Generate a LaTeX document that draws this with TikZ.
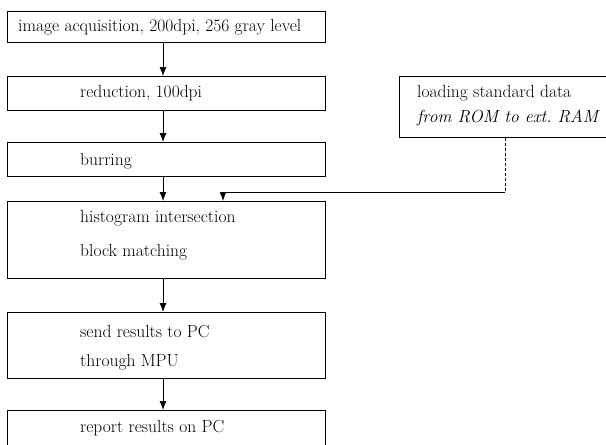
\documentclass[tikz,border=0pt]{standalone}
\usetikzlibrary{arrows.meta}
\begin{document}
\begin{tikzpicture}[x=1pt,y=-1pt,
  boxnode/.style={draw,line width=0.8pt,rectangle,inner sep=0pt,anchor=north west},
  txt/.style={anchor=base west,inner sep=0pt,font=\fontsize{17.5}{20}\selectfont},
  flow/.style={line width=0.8pt,-{Latex[length=9pt,width=7pt]}},
  link/.style={line width=0.7pt}]
\useasboundingbox (0,0) rectangle (606,445);
% boxes
\node[boxnode,minimum width=318pt,minimum height=31pt] (b1) at (7,11) {};
\node[boxnode,minimum width=318pt,minimum height=34pt] (b2) at (7,76) {};
\node[boxnode,minimum width=318pt,minimum height=34pt] (b3) at (7,142) {};
\node[boxnode,minimum width=318pt,minimum height=77pt] (b4) at (7,201) {};
\node[boxnode,minimum width=318pt,minimum height=66pt] (b5) at (7,312) {};
\node[boxnode,minimum width=318pt,minimum height=45pt] (b6) at (7,410) {};
\node[boxnode,minimum width=215pt,minimum height=61pt] (r) at (399,76) {};
% texts
\node[txt] (t1) at (18,31) {image acquisition, 200dpi, 256 gray level};
\node[txt] (t2) at (80,97) {reduction, 100dpi};
\node[txt] (t3) at (80,165) {burring};
\node[txt] (t4a) at (80,222) {histogram intersection};
\node[txt] (t4b) at (80,256) {block matching};
\node[txt] (t5a) at (80,337) {send results to PC};
\node[txt] (t5b) at (80,366) {through MPU};
\node[txt] (t6) at (80,432) {report results on PC};
\node[txt] (ra) at (417,97) {loading standard data};
\node[txt] (rb) at (417,122) {\itshape from ROM to ext.\ RAM};
% connectors
\draw[flow] (b1.south -| 163,0) -- (b2.north -| 163,0);
\draw[flow] (b2.south -| 163,0) -- (b3.north -| 163,0);
\draw[flow] (b3.south -| 163,0) -- (b4.north -| 163,0);
\draw[flow] (b4.south -| 163,0) -- (b5.north -| 163,0);
\draw[flow] (b5.south -| 163,0) -- (b6.north -| 163,0);
\coordinate (c1) at (505,192);
\coordinate (c2) at (223,192);
\draw[link,densely dashed] (r.south -| c1) -- (c1);
\draw[link] (c1) -- (c2);
\draw[flow] (c2) -- (b4.north -| c2);
\end{tikzpicture}
\end{document}
